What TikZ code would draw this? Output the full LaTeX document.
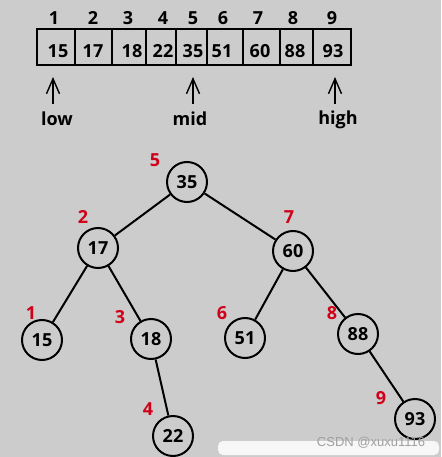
\documentclass[tikz,border=0pt]{standalone}
\usepackage{fontspec}
\setmainfont{Open Sans}
\newfontfamily\wmfont{Liberation Sans}
\usetikzlibrary{arrows.meta}
\definecolor{bg}{RGB}{204,204,204}
\definecolor{lbl}{RGB}{208,0,24}
\definecolor{wmgray}{RGB}{160,160,160}
\begin{document}
\begin{tikzpicture}[x=1pt,y=-1pt,
  num/.style={font=\bfseries\fontsize{18}{18}\selectfont, inner sep=0pt},
  cell/.style={draw, line width=2pt, minimum height=36pt, inner sep=0pt},
  tnode/.style={circle, draw, line width=2pt, minimum size=40pt, inner sep=0pt,
    font=\bfseries\fontsize{18}{18}\selectfont},
  edge/.style={line width=2pt},
  ptr/.style={line width=1.4pt, -{Straight Barb[length=15pt,width=13pt,line width=1.4pt]}},
  red/.style={text=lbl, font=\bfseries\fontsize{18}{18}\selectfont, inner sep=0pt},
  wm/.style={text=wmgray, font=\wmfont\fontsize{13}{13}\selectfont, inner sep=0pt}]
\fill[bg] (0,0) rectangle (441,457);
\useasboundingbox (0,0) rectangle (441,457);

% array cells
\node[cell, minimum width=38pt] (c1) at (56,47) {};
\node[cell, minimum width=37pt] (c2) at (93.5,47) {};
\node[cell, minimum width=34pt] (c3) at (129,47) {};
\node[cell, minimum width=30pt] (c4) at (161,47) {};
\node[cell, minimum width=31pt] (c5) at (191.5,47) {};
\node[cell, minimum width=36pt] (c6) at (225,47) {};
\node[cell, minimum width=37pt] (c7) at (261.5,47) {};
\node[cell, minimum width=33pt] (c8) at (296.5,47) {};
\node[cell, minimum width=38pt] (c9) at (332,47) {};

% values
\node[num] (v1) at (58,51) {15};
\node[num] (v2) at (93,51) {17};
\node[num] (v3) at (132,51) {18};
\node[num] (v4) at (163,51) {22};
\node[num] (v5) at (193,51) {35};
\node[num] (v6) at (222,51) {51};
\node[num] (v7) at (260,51) {60};
\node[num] (v8) at (295,51) {88};
\node[num] (v9) at (333,51) {93};

% indices
\node[num] (i1) at (54,18) {1};
\node[num] (i2) at (93,18) {2};
\node[num] (i3) at (128,18) {3};
\node[num] (i4) at (163,18) {4};
\node[num] (i5) at (193,18) {5};
\node[num] (i6) at (223,18) {6};
\node[num] (i7) at (258,18) {7};
\node[num] (i8) at (293,18) {8};
\node[num] (i9) at (332,18) {9};

% pointers
\node[num] (low) at (57,119) {low};
\node[num] (mid) at (190,119) {mid};
\node[num] (high) at (338,120) {high};
\coordinate (lowb) at (53,104);
\coordinate (lowt) at (53,77);
\coordinate (midb) at (193,104);
\coordinate (midt) at (193,77);
\coordinate (highb) at (335,104);
\coordinate (hight) at (335,77);
\draw[ptr] (lowb) -- (lowt);
\draw[ptr] (midb) -- (midt);
\draw[ptr] (highb) -- (hight);

% tree
\node[tnode] (n35) at (187,182) {35};
\node[tnode] (n17) at (98,248) {17};
\node[tnode] (n60) at (293,251) {60};
\node[tnode] (n15) at (42,340) {15};
\node[tnode] (n18) at (151,339) {18};
\node[tnode] (n51) at (245,338) {51};
\node[tnode] (n88) at (358,334) {88};
\node[tnode] (n22) at (173,436) {22};
\node[tnode] (n93) at (415,419) {93};

\draw[edge] (n35) -- (n17);
\draw[edge] (n35) -- (n60);
\draw[edge] (n17) -- (n15);
\draw[edge] (n17) -- (n18);
\draw[edge] (n18) -- (n22);
\draw[edge] (n60) -- (n51);
\draw[edge] (n60) -- (n88);
\draw[edge] (n88) -- (n93);

% red order labels
\node[red] (r5) at (155,160) {5};
\node[red] (r2) at (83,217) {2};
\node[red] (r7) at (289,217) {7};
\node[red] (r1) at (31,313) {1};
\node[red] (r3) at (120,317) {3};
\node[red] (r6) at (222,313) {6};
\node[red] (r8) at (332,313) {8};
\node[red] (r4) at (148,409) {4};
\node[red] (r9) at (381,398) {9};

% watermark
\fill[white, opacity=0.85, rounded corners=5pt] (218,441) rectangle (439,455);
\node[wm] (wmark) at (371,443) {CSDN @xuxu1116};
\end{tikzpicture}
\end{document}
